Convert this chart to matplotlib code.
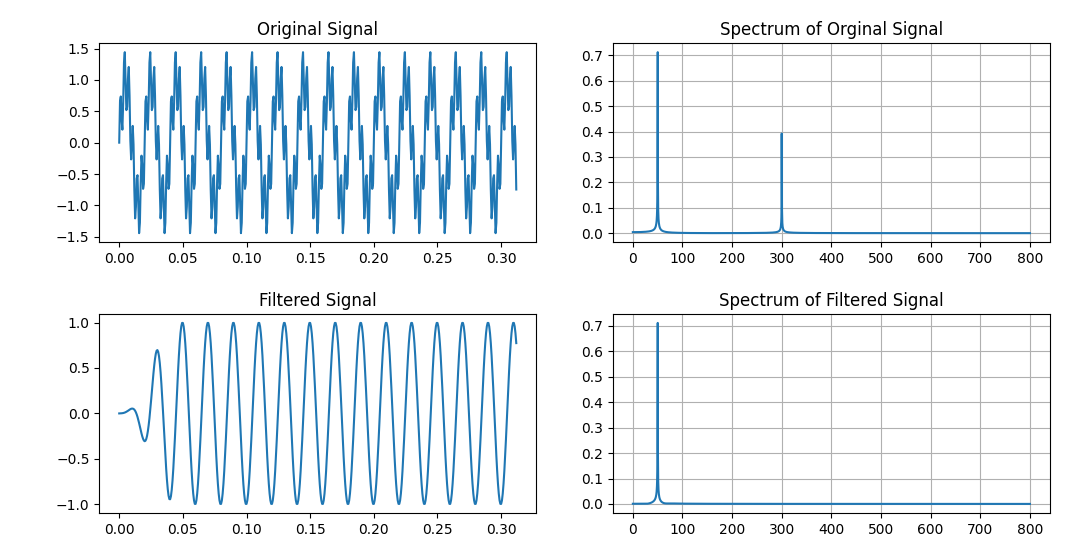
import numpy as np
import matplotlib
matplotlib.use("Agg")
import matplotlib.pyplot as plt
from matplotlib.ticker import MultipleLocator

# signal set-up
SAMPLE_RATE = 1600          # Hz, spectrum axis runs to 800
TONE_FREQS = [50, 300]      # Hz
TONE_AMPS = [1.0, 0.5]
PLOT_SAMPLES = 500          # time axes end at ~0.312 s
FFT_SAMPLES = 5010          # longer record used for the spectra
FILTER_TAPS = 80            # transient dies out at ~0.05 s
PASSBAND = [40, 60]         # Hz, FIR band-pass around the 50 Hz tone

TITLES = ["Original Signal", "Spectrum of Orginal Signal",
          "Filtered Signal", "Spectrum of Filtered Signal"]


def make_signal(n_samples: int) -> tuple[np.ndarray, np.ndarray]:
    t = np.arange(n_samples) / SAMPLE_RATE
    x = np.zeros(n_samples)
    for f, a in zip(TONE_FREQS, TONE_AMPS):
        x += a * np.sin(2 * np.pi * f * t)
    return t, x


def bandpass_fir(numtaps: int, band: list[float], fs: float) -> np.ndarray:
    # windowed-sinc band-pass (Hamming), unity gain at band centre
    m = np.arange(numtaps) - (numtaps - 1) / 2
    f1, f2 = band
    h = 2 * f2 / fs * np.sinc(2 * f2 / fs * m) - 2 * f1 / fs * np.sinc(2 * f1 / fs * m)
    h *= np.hamming(numtaps)
    centre = (f1 + f2) / 2
    h /= np.sum(h * np.cos(2 * np.pi * centre / fs * m))
    return h


def spectrum(x: np.ndarray) -> tuple[np.ndarray, np.ndarray]:
    freqs = np.fft.rfftfreq(len(x), 1 / SAMPLE_RATE)
    amp = 2 * np.abs(np.fft.rfft(x)) / len(x)
    return freqs, amp


t, x = make_signal(FFT_SAMPLES)
h = bandpass_fir(FILTER_TAPS, PASSBAND, SAMPLE_RATE)
y = np.convolve(x, h)[:len(x)]

f_x, a_x = spectrum(x)
f_y, a_y = spectrum(y)

fig, axes = plt.subplots(2, 2, figsize=(10.8, 5.6))
fig.subplots_adjust(left=0.092, right=0.972, top=0.923, bottom=0.084,
                    wspace=0.176, hspace=0.36)

axes[0, 0].plot(t[:PLOT_SAMPLES], x[:PLOT_SAMPLES])
axes[0, 1].plot(f_x, a_x)
axes[1, 0].plot(t[:PLOT_SAMPLES], y[:PLOT_SAMPLES])
axes[1, 1].plot(f_y, a_y)

for ax, title in zip(axes.flat, TITLES):
    ax.set_title(title)
for ax in (axes[0, 1], axes[1, 1]):
    ax.grid(True)
    ax.yaxis.set_major_locator(MultipleLocator(0.1))

fig.savefig("out.png", dpi=100)
